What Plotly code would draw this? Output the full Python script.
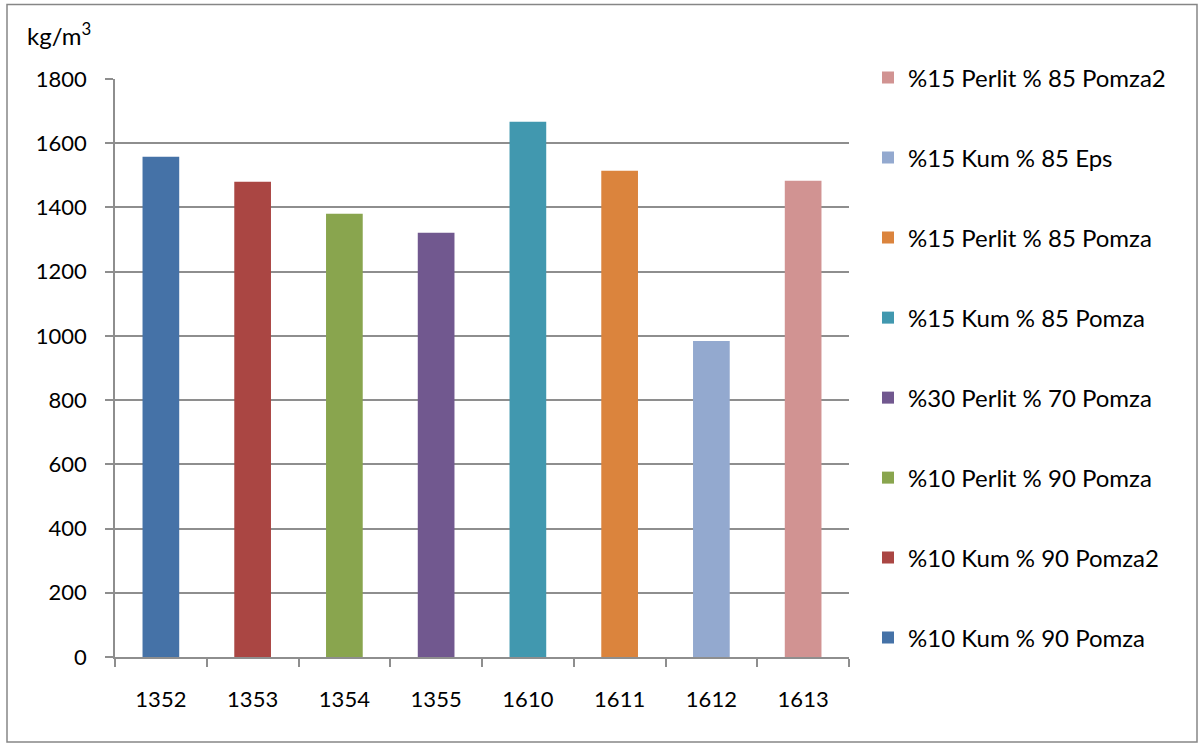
import plotly.graph_objects as go

# Sample codes on the category axis
categories = ["1352", "1353", "1354", "1355", "1610", "1611", "1612", "1613"]
# Unit weights (kg/m3) for each mix
values = [1558, 1480, 1380, 1321, 1667, 1514, 984, 1483]
# Mix description for each sample
series_names = [
    "%10 Kum % 90 Pomza",
    "%10 Kum % 90 Pomza2",
    "%10 Perlit % 90 Pomza",
    "%30 Perlit % 70 Pomza",
    "%15 Kum % 85 Pomza",
    "%15 Perlit % 85 Pomza",
    "%15 Kum % 85 Eps",
    "%15 Perlit % 85 Pomza2",
]
colors = ["#4572A7", "#AA4643", "#89A54E", "#71588F",
          "#4198AF", "#DB843D", "#93A9CF", "#D19392"]

FONT = "Lato"
W, H = 1202, 745
L, R, T, B = 115, 849, 78.5, 657  # plot area in pixels

fig = go.Figure()
n = len(categories)
for i, (cat, val, name, col) in enumerate(zip(categories, values, series_names, colors)):
    fig.add_trace(go.Bar(
        x=[cat], y=[val], name=name, legendgroup=name,
        legendrank=1000 + (n - i),  # last series listed first
        marker=dict(color=col, line=dict(width=0)),
        width=0.4,
    ))

grid = "#8E8E8E"
fig.update_layout(
    width=W, height=H,
    margin=dict(l=L, r=W - R, t=T, b=H - B, pad=0),
    paper_bgcolor="white", plot_bgcolor="white",
    barmode="overlay",
    font=dict(family=FONT, size=22, color="black"),
    showlegend=True,
    legend=dict(
        x=(868 - L) / (R - L), y=(B - 55) / (B - T),
        xanchor="left", yanchor="top",
        traceorder="grouped",
        tracegroupgap=45.8,
        itemwidth=30,
        maxheight=1,
        font=dict(family=FONT, size=24, color="black"),
        bgcolor="rgba(0,0,0,0)",
    ),
    xaxis=dict(
        type="category",
        categoryorder="array", categoryarray=categories,
        showline=True, linecolor=grid, linewidth=1.5,
        ticks="outside", ticklen=8, tickcolor=grid, tickwidth=1.5,
        tickson="boundaries",
        showgrid=False,
        ticklabelstandoff=22,
        tickfont=dict(family=FONT, size=22),
    ),
    yaxis=dict(
        range=[0, 1800], dtick=200, tick0=0,
        showline=True, linecolor=grid, linewidth=1.5,
        ticks="outside", ticklen=8, tickcolor=grid, tickwidth=1.5,
        showgrid=True, gridcolor=grid, gridwidth=1.5,
        zeroline=False,
        ticklabelstandoff=14,
        tickfont=dict(family=FONT, size=22),
    ),
)

# Unit label above the value axis
fig.add_annotation(
    text="kg/m<sup>3</sup>", xref="paper", yref="paper",
    x=(25 - L) / (R - L), y=(B - 33) / (B - T),
    xanchor="left", yanchor="middle", showarrow=False,
    font=dict(family=FONT, size=24, color="black"),
)

# Chart border
fig.add_shape(
    type="rect", xref="paper", yref="paper",
    x0=(7 - L) / (R - L), x1=(1197 - L) / (R - L),
    y0=(B - 742) / (B - T), y1=(B - 4) / (B - T),
    line=dict(color="#868686", width=1.5), fillcolor="rgba(0,0,0,0)",
    layer="below",
)

fig.write_html("out.html")
